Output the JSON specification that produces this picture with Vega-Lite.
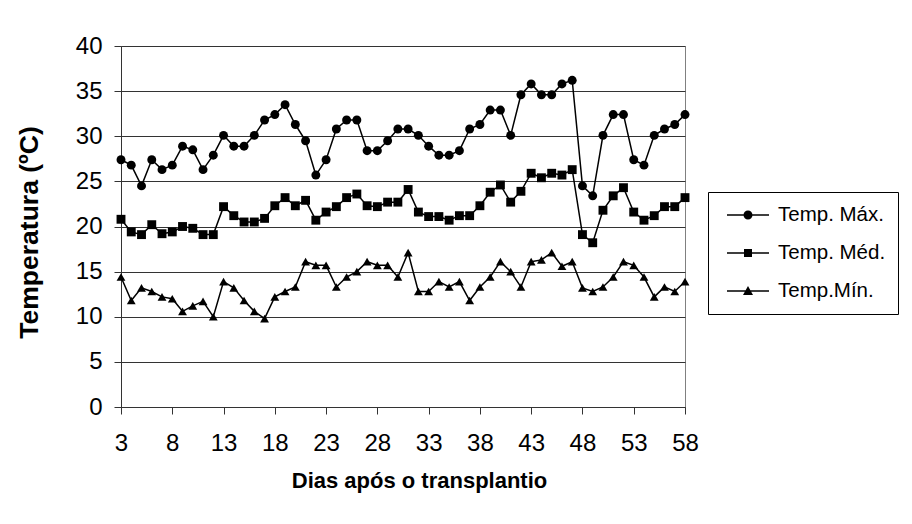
{
  "$schema": "https://vega.github.io/schema/vega-lite/v6.json",
  "width": 564,
  "height": 361,
  "autosize": "none",
  "padding": {"left": 121, "top": 46, "right": 227, "bottom": 117},
  "background": "white",
  "config": {
    "font": "Liberation Sans",
    "view": {"stroke": "#808080", "strokeWidth": 1},
    "axis": {"labelColor": "black", "titleColor": "black", "domainColor": "#333333", "tickColor": "#333333", "gridColor": "#333333", "domainWidth": 1, "tickWidth": 1, "gridWidth": 1},
    "legend": {"symbolStrokeColor": "black", "symbolFillColor": "black"}
  },
  "data": {
    "values": [
      {"d": 3, "max": 27.4, "med": 20.8, "min": 14.4},
      {"d": 4, "max": 26.8, "med": 19.4, "min": 11.8},
      {"d": 5, "max": 24.5, "med": 19.1, "min": 13.2},
      {"d": 6, "max": 27.4, "med": 20.2, "min": 12.8},
      {"d": 7, "max": 26.3, "med": 19.2, "min": 12.2},
      {"d": 8, "max": 26.8, "med": 19.4, "min": 12.0},
      {"d": 9, "max": 28.9, "med": 20.0, "min": 10.6},
      {"d": 10, "max": 28.5, "med": 19.8, "min": 11.2},
      {"d": 11, "max": 26.3, "med": 19.1, "min": 11.7},
      {"d": 12, "max": 27.9, "med": 19.1, "min": 10.0},
      {"d": 13, "max": 30.1, "med": 22.2, "min": 13.9},
      {"d": 14, "max": 28.9, "med": 21.2, "min": 13.2},
      {"d": 15, "max": 28.9, "med": 20.5, "min": 11.8},
      {"d": 16, "max": 30.1, "med": 20.5, "min": 10.6},
      {"d": 17, "max": 31.8, "med": 20.9, "min": 9.8},
      {"d": 18, "max": 32.4, "med": 22.3, "min": 12.2},
      {"d": 19, "max": 33.5, "med": 23.2, "min": 12.8},
      {"d": 20, "max": 31.3, "med": 22.3, "min": 13.3},
      {"d": 21, "max": 29.5, "med": 22.9, "min": 16.1},
      {"d": 22, "max": 25.7, "med": 20.7, "min": 15.7},
      {"d": 23, "max": 27.4, "med": 21.6, "min": 15.7},
      {"d": 24, "max": 30.8, "med": 22.2, "min": 13.3},
      {"d": 25, "max": 31.8, "med": 23.2, "min": 14.4},
      {"d": 26, "max": 31.8, "med": 23.6, "min": 15.0},
      {"d": 27, "max": 28.4, "med": 22.3, "min": 16.1},
      {"d": 28, "max": 28.4, "med": 22.2, "min": 15.7},
      {"d": 29, "max": 29.5, "med": 22.7, "min": 15.7},
      {"d": 30, "max": 30.8, "med": 22.7, "min": 14.4},
      {"d": 31, "max": 30.8, "med": 24.1, "min": 17.1},
      {"d": 32, "max": 30.1, "med": 21.6, "min": 12.8},
      {"d": 33, "max": 28.9, "med": 21.1, "min": 12.8},
      {"d": 34, "max": 27.9, "med": 21.1, "min": 13.9},
      {"d": 35, "max": 27.9, "med": 20.7, "min": 13.3},
      {"d": 36, "max": 28.4, "med": 21.2, "min": 13.9},
      {"d": 37, "max": 30.8, "med": 21.2, "min": 11.8},
      {"d": 38, "max": 31.3, "med": 22.3, "min": 13.3},
      {"d": 39, "max": 32.9, "med": 23.8, "min": 14.4},
      {"d": 40, "max": 32.9, "med": 24.6, "min": 16.1},
      {"d": 41, "max": 30.1, "med": 22.7, "min": 15.0},
      {"d": 42, "max": 34.6, "med": 23.9, "min": 13.3},
      {"d": 43, "max": 35.8, "med": 25.9, "min": 16.1},
      {"d": 44, "max": 34.6, "med": 25.4, "min": 16.3},
      {"d": 45, "max": 34.6, "med": 25.9, "min": 17.1},
      {"d": 46, "max": 35.8, "med": 25.7, "min": 15.6},
      {"d": 47, "max": 36.2, "med": 26.3, "min": 16.1},
      {"d": 48, "max": 24.5, "med": 19.1, "min": 13.2},
      {"d": 49, "max": 23.4, "med": 18.2, "min": 12.8},
      {"d": 50, "max": 30.1, "med": 21.8, "min": 13.3},
      {"d": 51, "max": 32.4, "med": 23.4, "min": 14.4},
      {"d": 52, "max": 32.4, "med": 24.3, "min": 16.1},
      {"d": 53, "max": 27.4, "med": 21.6, "min": 15.7},
      {"d": 54, "max": 26.8, "med": 20.7, "min": 14.4},
      {"d": 55, "max": 30.1, "med": 21.2, "min": 12.2},
      {"d": 56, "max": 30.8, "med": 22.2, "min": 13.3},
      {"d": 57, "max": 31.3, "med": 22.2, "min": 12.8},
      {"d": 58, "max": 32.4, "med": 23.2, "min": 13.9}
    ]
  },
  "transform": [{"fold": ["max", "med", "min"], "as": ["serie", "temp"]}],
  "encoding": {
    "x": {
      "field": "d", "type": "quantitative",
      "scale": {"domain": [3, 58], "nice": false, "zero": false},
      "axis": {
        "values": [3, 8, 13, 18, 23, 28, 33, 38, 43, 48, 53, 58],
        "grid": false, "tickSize": 7, "labelFontSize": 24, "labelPadding": 17, "labelFlush": false,
        "title": "Dias após o transplantio", "titleFontSize": 22, "titleFontWeight": "bold",
        "titleX": 298, "titleY": 80, "titleBaseline": "alphabetic", "titleAlign": "center"
      }
    },
    "y": {
      "field": "temp", "type": "quantitative",
      "scale": {"domain": [0, 40], "nice": false},
      "axis": {
        "values": [0, 5, 10, 15, 20, 25, 30, 35, 40],
        "grid": true, "tickSize": 7, "labelFontSize": 24, "labelPadding": 12,
        "title": "Temperatura (ºC)", "titleFontSize": 26.5, "titleFontWeight": "bold",
        "titleX": -84, "titleY": 186, "titleAngle": -90, "titleAlign": "center", "titleBaseline": "alphabetic"
      }
    }
  },
  "layer": [
    {
      "mark": {"type": "line", "color": "black", "strokeWidth": 1.5},
      "encoding": {"detail": {"field": "serie"}}
    },
    {
      "mark": {"type": "point", "filled": true, "color": "black", "opacity": 1},
      "encoding": {
        "shape": {"field": "serie", "type": "nominal", "scale": {"domain": ["max", "med", "min"], "range": ["circle", "square", "triangle-up"]}, "legend": null},
        "size": {"field": "serie", "type": "ordinal", "scale": {"domain": ["max", "med", "min"], "range": [80, 78, 110]}, "legend": null}
      }
    },
    {
      "mark": {"type": "point", "filled": true, "color": "black", "opacity": 0},
      "encoding": {
        "shape": {
          "field": "serie", "type": "nominal",
          "scale": {"domain": ["max", "med", "min"], "range": [
            "M-0.4,-0.075H3.8V0.075H-0.4ZM1.25,0A0.45,0.45,0,1,1,2.15,0A0.45,0.45,0,1,1,1.25,0Z",
            "M-0.4,-0.075H3.8V0.075H-0.4ZM1.3,-0.4H2.1V0.4H1.3Z",
            "M-0.4,-0.075H3.8V0.075H-0.4ZM1.7,-0.5L2.2,0.4H1.2Z"
          ]},
          "legend": {
            "orient": "none", "legendX": 587, "legendY": 146, "title": null,
            "strokeColor": "black", "fillColor": "white", "padding": 12,
            "symbolSize": 400, "symbolOpacity": 1, "symbolFillColor": "black",
            "labelFontSize": 20.5, "labelOffset": 36, "rowPadding": 16, "labelColor": "black",
            "labelExpr": "datum.label == 'max' ? 'Temp. Máx.' : datum.label == 'med' ? 'Temp. Méd.' : 'Temp.Mín.'"
          }
        }
      }
    }
  ],
  "resolve": {"scale": {"shape": "independent"}}
}
